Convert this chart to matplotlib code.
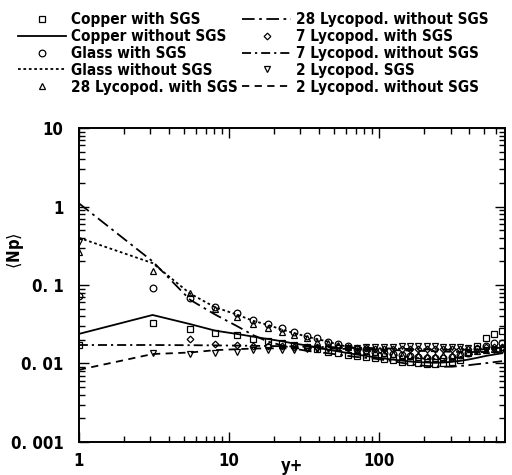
import matplotlib
matplotlib.use("Agg")
import matplotlib.pyplot as plt
from matplotlib.ticker import LogLocator, NullFormatter, FixedLocator, FixedFormatter

yplus = [1, 3.1, 5.5, 8.1, 11.3, 14.5, 18.2, 22.6, 27, 33, 38.6, 45.7, 53, 62,
         71, 82, 94, 108, 124, 142, 161, 182, 209, 236, 267, 307, 347, 392,
         450, 517, 584, 661]

copper_sgs = [0.017, 0.0327, 0.0275, 0.0244, 0.0231, 0.0205, 0.0193, 0.0183, 0.0172,
              0.0162, 0.0153, 0.0142, 0.0136, 0.0130, 0.0125, 0.0122, 0.0118, 0.0114,
              0.0110, 0.0106, 0.0103, 0.0101, 0.0099, 0.0098, 0.0100, 0.0105, 0.0112,
              0.0135, 0.0165, 0.0210, 0.0240, 0.0260]
copper_nosgs = [0.0238, 0.0415, 0.0318, 0.0262, 0.0238, 0.0220, 0.0205, 0.0192, 0.0180,
                0.0170, 0.0160, 0.0150, 0.0143, 0.0136, 0.0130, 0.0125, 0.0120, 0.0116,
                0.0112, 0.0109, 0.0106, 0.0104, 0.0103, 0.0102, 0.0103, 0.0105, 0.0108,
                0.0112, 0.0118, 0.0125, 0.0130, 0.0135]
glass_sgs = [0.072, 0.092, 0.068, 0.052, 0.044, 0.036, 0.032, 0.028, 0.025, 0.0225,
             0.021, 0.019, 0.0178, 0.0165, 0.0155, 0.0148, 0.0142, 0.0136, 0.0131,
             0.0127, 0.0123, 0.0120, 0.0118, 0.0117, 0.0118, 0.0122, 0.0128, 0.0138,
             0.0152, 0.0168, 0.0180, 0.0185]
glass_nosgs = [0.40, 0.19, 0.078, 0.052, 0.042, 0.035, 0.031, 0.027, 0.0245, 0.022,
               0.0205, 0.019, 0.0175, 0.0163, 0.0155, 0.0147, 0.0140, 0.0134, 0.0129,
               0.0124, 0.0120, 0.0117, 0.0115, 0.0114, 0.0114, 0.0117, 0.0121, 0.0127,
               0.0135, 0.0145, 0.0155, 0.0160]
lyc28_sgs = [0.26, 0.15, 0.079, 0.050, 0.039, 0.0317, 0.0283, 0.0253, 0.0232, 0.0211,
             0.0188, 0.0183, 0.0172, 0.0160, 0.0150, 0.0145, 0.0140, 0.0135, 0.0132,
             0.0130, 0.0128, 0.0127, 0.0126, 0.0126, 0.0127, 0.0130, 0.0134, 0.0140,
             0.0145, 0.0150, 0.0155, 0.0160]
lyc28_nosgs = [1.1, 0.20, 0.065, 0.042, 0.030, 0.023, 0.019, 0.017, 0.0155, 0.0145,
               0.0140, 0.0135, 0.0130, 0.0125, 0.0121, 0.0118, 0.0115, 0.0111, 0.0107,
               0.0102, 0.0098, 0.0095, 0.0093, 0.0092, 0.0091, 0.0091, 0.0093, 0.0095,
               0.0098, 0.0101, 0.0104, 0.0107]
lyc7_sgs_x = yplus[2:]
lyc7_sgs = [0.0205, 0.0178, 0.0170, 0.0168, 0.0166, 0.0165, 0.0164, 0.0163, 0.0162,
            0.0160, 0.0160, 0.0158, 0.0157, 0.0156, 0.0155, 0.0155, 0.0155, 0.0155,
            0.0155, 0.0155, 0.0155, 0.0155, 0.0155, 0.0155, 0.0155, 0.0155, 0.0157,
            0.0160, 0.0160, 0.0160]
lyc7_nosgs = [0.0172, 0.0172, 0.0171, 0.0170, 0.0169, 0.0168, 0.0167, 0.0166, 0.0165,
              0.0164, 0.0163, 0.0162, 0.0161, 0.0160, 0.0159, 0.0158, 0.0157, 0.0156,
              0.0155, 0.0154, 0.0153, 0.0152, 0.0151, 0.0150, 0.0150, 0.0150, 0.0150,
              0.0150, 0.0151, 0.0152, 0.0153, 0.0154]
lyc2_sgs = [0.353, 0.0136, 0.0132, 0.0136, 0.0140, 0.0148, 0.0148, 0.0150, 0.0150,
            0.0152, 0.0153, 0.0155, 0.0156, 0.0157, 0.0158, 0.0160, 0.0162, 0.0163,
            0.0164, 0.0165, 0.0165, 0.0165, 0.0165, 0.0165, 0.0164, 0.0163, 0.0160,
            0.0157, 0.0153, 0.0150, 0.0148, 0.0148]
lyc2_nosgs = [0.0083, 0.0132, 0.0138, 0.0148, 0.0152, 0.0155, 0.0156, 0.0156, 0.0156,
              0.0156, 0.0155, 0.0155, 0.0154, 0.0153, 0.0152, 0.0151, 0.0150, 0.0149,
              0.0148, 0.0147, 0.0146, 0.0145, 0.0144, 0.0143, 0.0142, 0.0141, 0.0140,
              0.0140, 0.0140, 0.0140, 0.0140, 0.0140]

labels = ["Copper with SGS", "Copper without SGS", "Glass with SGS",
          "Glass without SGS", "28 Lycopod. with SGS", "28 Lycopod. without SGS",
          "7 Lycopod. with SGS", "7 Lycopod. without SGS", "2 Lycopod. SGS",
          "2 Lycopod. without SGS"]

yticks = [0.001, 0.01, 0.1, 1, 10]
ytick_labels = ["0. 001", "0. 01", "0. 1", "1", "10"]
xticks = [1, 10, 100]
xtick_labels = ["1", "10", "100"]

FAM = ["DejaVu Sans"]

fig = plt.figure(figsize=(5.12, 4.75), dpi=100)
ax = fig.add_axes([0.154, 0.0695, 0.832, 0.661])

mk = dict(color="black", linestyle="none", mfc="none", mew=0.9)
h = []
h.append(ax.plot(yplus, copper_sgs, marker="s", ms=4.0, **mk)[0])
h.append(ax.plot(yplus, copper_nosgs, color="black", lw=1.3, ls="-")[0])
h.append(ax.plot(yplus, glass_sgs, marker="o", ms=4.8, **mk)[0])
h.append(ax.plot(yplus, glass_nosgs, color="black", lw=1.3, ls=(0, (1.5, 1.5)))[0])
h.append(ax.plot(yplus, lyc28_sgs, marker="^", ms=4.8, **mk)[0])
h.append(ax.plot(yplus, lyc28_nosgs, color="black", lw=1.3, ls=(0, (7, 2.5, 1.5, 2.5)))[0])
h.append(ax.plot(lyc7_sgs_x, lyc7_sgs, marker="D", ms=3.4, **mk)[0])
h.append(ax.plot(yplus, lyc7_nosgs, color="black", lw=1.3, ls=(0, (5, 2.2, 1.2, 2.2)))[0])
h.append(ax.plot(yplus, lyc2_sgs, marker="v", ms=4.8, **mk)[0])
h.append(ax.plot(yplus, lyc2_nosgs, color="black", lw=1.3, ls=(0, (4, 3)))[0])

ax.set_xscale("log")
ax.set_yscale("log")
ax.set_xlim(1, 690)
ax.set_ylim(0.001, 10)

ax.yaxis.set_major_locator(FixedLocator(yticks))
ax.yaxis.set_major_formatter(FixedFormatter(ytick_labels))
ax.xaxis.set_major_locator(FixedLocator(xticks))
ax.xaxis.set_major_formatter(FixedFormatter(xtick_labels))
ax.xaxis.set_minor_locator(LogLocator(base=10, subs=range(2, 10)))
ax.yaxis.set_minor_locator(LogLocator(base=10, subs=range(2, 10)))
ax.xaxis.set_minor_formatter(NullFormatter())
ax.yaxis.set_minor_formatter(NullFormatter())
ax.tick_params(which="both", direction="in", top=True, right=True, width=1.0)
ax.tick_params(which="major", length=7)
ax.tick_params(axis="y", which="major", pad=11)
ax.tick_params(axis="x", which="major", pad=7)
ax.tick_params(which="minor", length=4)
for lab in ax.get_xticklabels() + ax.get_yticklabels():
    lab.set_fontfamily(FAM)
    lab.set_fontweight("bold")
    lab.set_fontstretch("condensed")
    lab.set_fontsize(12)
for s in ax.spines.values():
    s.set_linewidth(1.4)

ax.set_xlabel("y+", family=FAM, weight="bold", stretch="condensed", size=12, labelpad=-9)
ax.set_ylabel(r"$\langle$Np$\rangle$", family=FAM, weight="bold", stretch="condensed", size=12)
ax.yaxis.set_label_coords(-0.125, 0.61)

fig.legend(h, labels, ncol=2, loc="upper left", bbox_to_anchor=(0.015, 0.995),
           frameon=False,
           prop=dict(family=FAM, weight="bold", stretch="condensed", size=11),
           handlelength=3.2, handletextpad=0.3, columnspacing=0.3, labelspacing=0.12,
           borderaxespad=0.25)

fig.savefig("out.png", dpi=100)
